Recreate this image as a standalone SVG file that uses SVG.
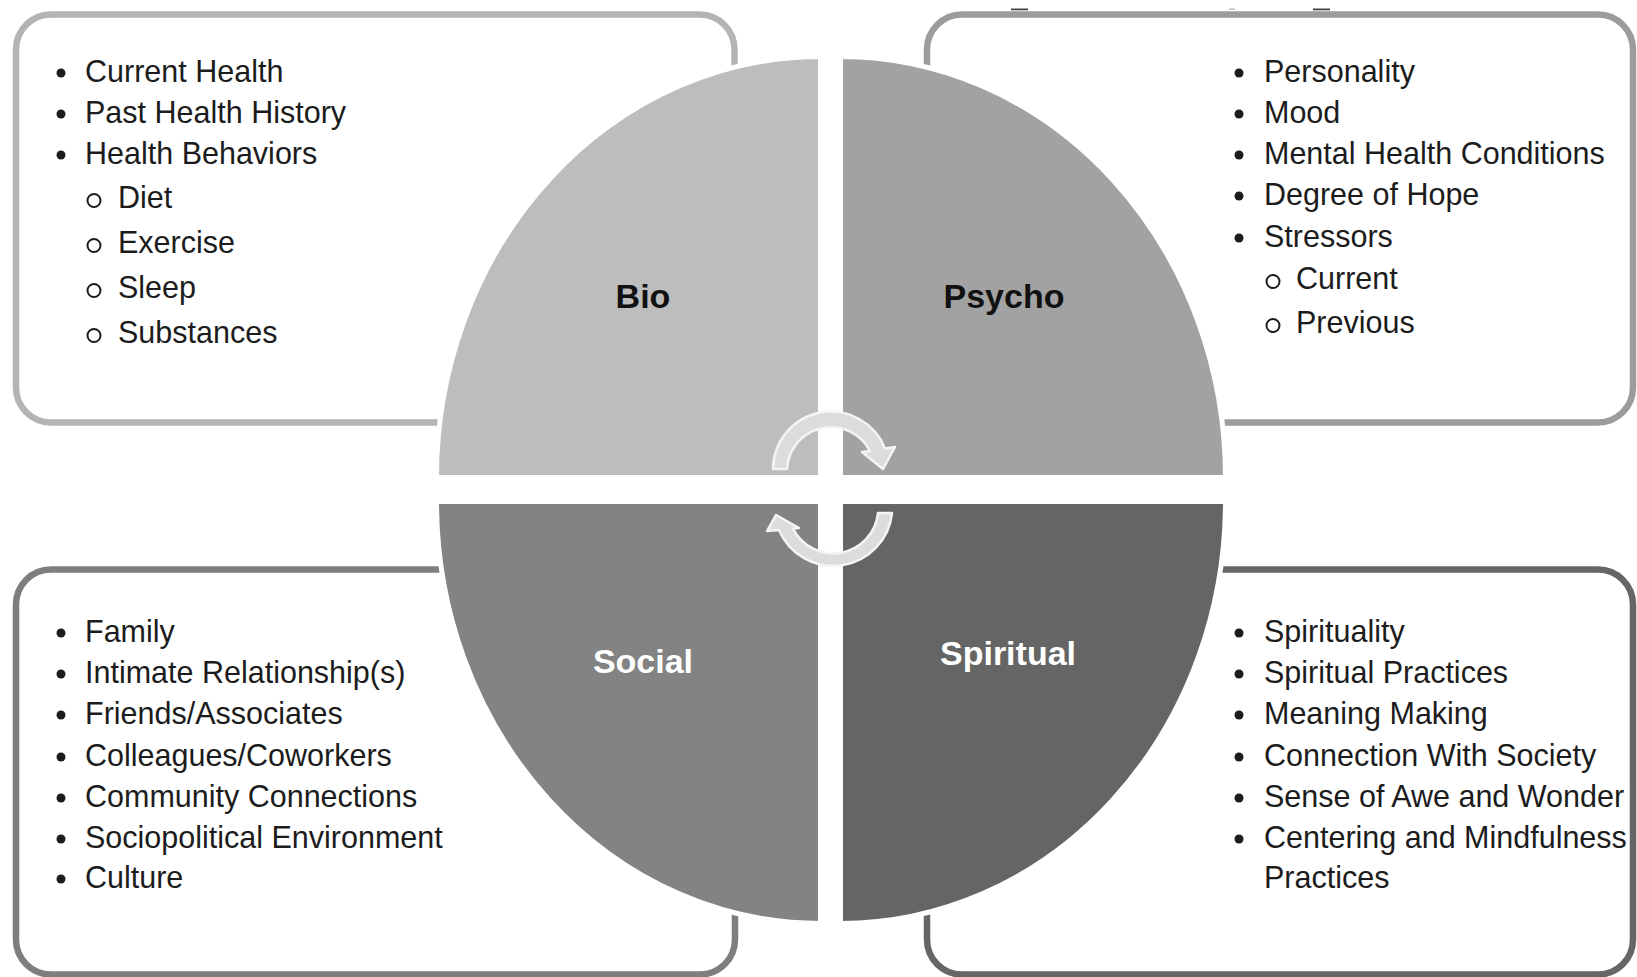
<svg xmlns="http://www.w3.org/2000/svg" width="1637" height="977" viewBox="0 0 1637 977">
<style>
.box{fill:#ffffff;stroke-width:6.5}
.item{font-family:"Liberation Sans",Arial,sans-serif;font-size:30.5px;fill:#1c1c1c}
.lbl{font-family:"Liberation Sans",Arial,sans-serif;font-size:34px;font-weight:bold;text-anchor:middle}
.quad{stroke:#ffffff;stroke-width:5}
.dot{fill:#1c1c1c}
.ring{fill:none;stroke:#1c1c1c;stroke-width:2}
.arrow{fill:#dcdcdc;stroke:#f4f4f4;stroke-width:2.5;stroke-linejoin:round}
</style>
<rect width="1637" height="977" fill="#ffffff"/>
<g id="artifacts" fill="#444">
<rect x="1011" y="8.5" width="17" height="1.8"/>
<rect x="1229" y="8.5" width="6" height="1.2" fill="#aaa"/>
<rect x="1313" y="8.5" width="17" height="1.8"/>
</g>
<g id="bio-box">
<rect class="box" x="16" y="14.5" width="718.5" height="408" rx="35" ry="35" stroke="#b4b4b4"/>
</g>
<g id="psycho-box">
<rect class="box" x="927" y="14.5" width="706" height="408" rx="35" ry="35" stroke="#9c9c9c"/>
</g>
<g id="social-box">
<rect class="box" x="16" y="569.5" width="719" height="405" rx="35" ry="35" stroke="#7e7e7e"/>
</g>
<g id="spiritual-box">
<rect class="box" x="927" y="569.5" width="706" height="405" rx="35" ry="35" stroke="#666666"/>
</g>
<g id="bio">
<path class="quad" fill="#bdbdbd" d="M 820.5 477.5 L 436.5 477.5 A 384 421 0 0 1 820.5 56.5 Z"/>
<text class="lbl" x="643" y="308" fill="#111111">Bio</text>
</g>
<g id="psycho">
<path class="quad" fill="#a2a2a2" d="M 840.5 477.5 L 840.5 56.5 A 385 421 0 0 1 1225.5 477.5 Z"/>
<text class="lbl" x="1004" y="308" fill="#111111">Psycho</text>
</g>
<g id="social">
<path class="quad" fill="#838383" d="M 820.5 501.5 L 820.5 923.5 A 384 422 0 0 1 436.5 501.5 Z"/>
<text class="lbl" x="643" y="673" fill="#ffffff">Social</text>
</g>
<g id="spiritual">
<path class="quad" fill="#656565" d="M 840.5 501.5 L 1225.5 501.5 A 385 422 0 0 1 840.5 923.5 Z"/>
<text class="lbl" x="1008" y="665" fill="#ffffff">Spiritual</text>
</g>
<g id="bio-list">
<circle class="dot" cx="61" cy="73" r="4.5"/><text class="item" x="85" y="82">Current Health</text>
<circle class="dot" cx="61" cy="114" r="4.5"/><text class="item" x="85" y="123">Past Health History</text>
<circle class="dot" cx="61" cy="155" r="4.5"/><text class="item" x="85" y="164">Health Behaviors</text>
<circle class="ring" cx="94" cy="200.5" r="6.5"/><text class="item" x="118" y="208">Diet</text>
<circle class="ring" cx="94" cy="245.5" r="6.5"/><text class="item" x="118" y="253">Exercise</text>
<circle class="ring" cx="94" cy="290.5" r="6.5"/><text class="item" x="118" y="298">Sleep</text>
<circle class="ring" cx="94" cy="335.5" r="6.5"/><text class="item" x="118" y="343">Substances</text>
</g>
<g id="psycho-list">
<circle class="dot" cx="1239" cy="73" r="4.5"/><text class="item" x="1264" y="82">Personality</text>
<circle class="dot" cx="1239" cy="114" r="4.5"/><text class="item" x="1264" y="123">Mood</text>
<circle class="dot" cx="1239" cy="155" r="4.5"/><text class="item" x="1264" y="164">Mental Health Conditions</text>
<circle class="dot" cx="1239" cy="196" r="4.5"/><text class="item" x="1264" y="205">Degree of Hope</text>
<circle class="dot" cx="1239" cy="238" r="4.5"/><text class="item" x="1264" y="247">Stressors</text>
<circle class="ring" cx="1273" cy="281.5" r="6.5"/><text class="item" x="1296" y="289">Current</text>
<circle class="ring" cx="1273" cy="325.5" r="6.5"/><text class="item" x="1296" y="333">Previous</text>
</g>
<g id="social-list">
<circle class="dot" cx="61" cy="633" r="4.5"/><text class="item" x="85" y="642">Family</text>
<circle class="dot" cx="61" cy="674" r="4.5"/><text class="item" x="85" y="683">Intimate Relationship(s)</text>
<circle class="dot" cx="61" cy="715" r="4.5"/><text class="item" x="85" y="724">Friends/Associates</text>
<circle class="dot" cx="61" cy="757" r="4.5"/><text class="item" x="85" y="766">Colleagues/Coworkers</text>
<circle class="dot" cx="61" cy="798" r="4.5"/><text class="item" x="85" y="807">Community Connections</text>
<circle class="dot" cx="61" cy="839" r="4.5"/><text class="item" x="85" y="848">Sociopolitical Environment</text>
<circle class="dot" cx="61" cy="879" r="4.5"/><text class="item" x="85" y="888">Culture</text>
</g>
<g id="spiritual-list">
<circle class="dot" cx="1239" cy="633" r="4.5"/><text class="item" x="1264" y="642">Spirituality</text>
<circle class="dot" cx="1239" cy="674" r="4.5"/><text class="item" x="1264" y="683">Spiritual Practices</text>
<circle class="dot" cx="1239" cy="715" r="4.5"/><text class="item" x="1264" y="724">Meaning Making</text>
<circle class="dot" cx="1239" cy="757" r="4.5"/><text class="item" x="1264" y="766">Connection With Society</text>
<circle class="dot" cx="1239" cy="798" r="4.5"/><text class="item" x="1264" y="807">Sense of Awe and Wonder</text>
<circle class="dot" cx="1239" cy="839" r="4.5"/><text class="item" x="1264" y="848">Centering and Mindfulness</text>
<text class="item" x="1264" y="888">Practices</text>
</g>
<g id="connectors">
<path class="arrow" d="M 773 469 A 58 58 0 0 1 885 448.5 L 895 447 L 883 469 L 862 452 L 870 451 A 44 44 0 0 0 787 469 Z"/>
<path class="arrow" d="M 892 513 A 59 59 0 0 1 779 530 L 767 531 L 776 515 L 799 528 L 793 528.6 A 45 45 0 0 0 878 513 Z"/>
</g>
</svg>
